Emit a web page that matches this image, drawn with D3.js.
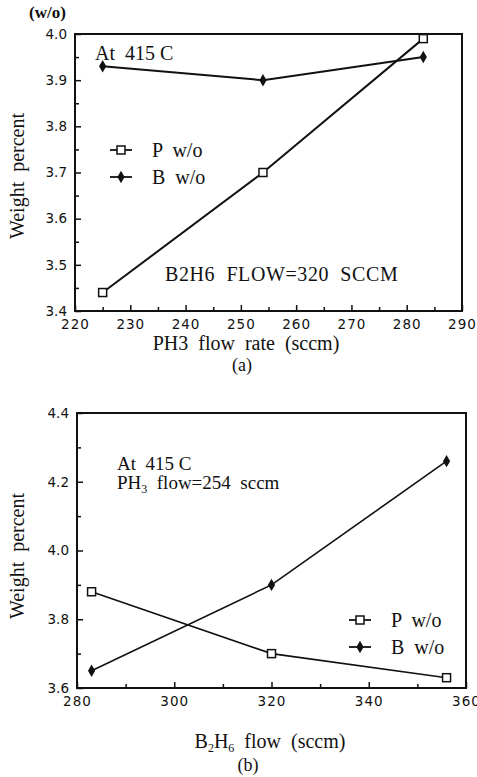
<!DOCTYPE html>
<html>
<head>
<meta charset="utf-8">
<script src="https://cdn.jsdelivr.net/npm/d3@7"></script>
<style>
  body { margin: 0; background: #fff; }
  text { fill: #111; white-space: pre; }
  .serif { font-family: "Liberation Serif", "DejaVu Serif", serif; }
  .tick text { font-family: "DejaVu Sans", sans-serif; font-size: 13.5px; }
  .xax .tick text { letter-spacing: 1px; }
</style>
</head>
<body>
<svg id="chart" width="477" height="777"></svg>
<script>
// panel (a): PH3 flow sweep
var ph3Flow   = [225, 254, 283]
var pWtA      = [3.44, 3.70, 3.99]
var bWtA      = [3.93, 3.90, 3.95]
var yTicksA   = [3.4, 3.5, 3.6, 3.7, 3.8, 3.9, 4.0]
var xTicksA   = [220, 230, 240, 250, 260, 270, 280, 290]

// panel (b): B2H6 flow sweep
var b2h6Flow  = [283, 320, 356]
var pWtB      = [3.88, 3.70, 3.63]
var bWtB      = [3.65, 3.90, 4.26]
var yTicksB   = [3.6, 3.8, 4.0, 4.2, 4.4]
var xTicksB   = [280, 300, 320, 340, 360]

var svg = d3.select('#chart')

function panel(o){
    var x = d3.scaleLinear().domain(o.xDom).range([o.left, o.right])
    var y = d3.scaleLinear().domain(o.yDom).range([o.bottom, o.top])
    var g = svg.append('g')

    // minor ticks (inside)
    g.append('g').attr('transform', 'translate(0,' + o.bottom + ')')
        .call(d3.axisBottom(x).tickValues(o.xMinor).tickSize(-4).tickFormat(''))
        .call(a => a.select('.domain').remove())
    g.append('g').attr('transform', 'translate(' + o.left + ',0)')
        .call(d3.axisLeft(y).tickValues(o.yMinor).tickSize(-4).tickFormat(''))
        .call(a => a.select('.domain').remove())

    // major ticks + labels
    g.append('g').attr('class', 'xax').attr('transform', 'translate(0,' + o.bottom + ')')
        .call(d3.axisBottom(x).tickValues(o.xTicks).tickSizeInner(-6).tickSizeOuter(0).tickPadding(o.xPad).tickFormat(d3.format('d')))
        .call(a => a.select('.domain').remove())
    g.append('g').attr('transform', 'translate(' + o.left + ',0)')
        .call(d3.axisLeft(y).tickValues(o.yTicks).tickSizeInner(-6).tickSizeOuter(0).tickPadding(8).tickFormat(d3.format('.1f')))
        .call(a => a.select('.domain').remove())
    g.selectAll('.tick line').attr('stroke', '#111').attr('stroke-width', 1.5)

    // frame
    g.append('rect')
        .attr('x', o.left).attr('y', o.top)
        .attr('width', o.right - o.left).attr('height', o.bottom - o.top)
        .attr('fill', 'none').attr('stroke', '#111').attr('stroke-width', 2)

    var line = d3.line().x(d => x(d[0])).y(d => y(d[1]))
    var pPts = o.xs.map((v, i) => [v, o.p[i]])
    var bPts = o.xs.map((v, i) => [v, o.b[i]])

    g.append('path').datum(bPts).attr('d', line)
        .attr('fill', 'none').attr('stroke', '#111').attr('stroke-width', o.lw)
    g.append('path').datum(pPts).attr('d', line)
        .attr('fill', 'none').attr('stroke', '#111').attr('stroke-width', o.lw)

    var diamond = d3.symbol().type(d3.symbolDiamond).size(45)
    g.selectAll('.bm').data(bPts).enter().append('path')
        .attr('transform', d => 'translate(' + x(d[0]) + ',' + y(d[1]) + ')')
        .attr('d', diamond).attr('fill', '#111')
    g.selectAll('.pm').data(pPts).enter().append('rect')
        .attr('x', d => x(d[0]) - 4).attr('y', d => y(d[1]) - 4)
        .attr('width', 8).attr('height', 8)
        .attr('fill', '#fff').attr('stroke', '#111').attr('stroke-width', 1.5)

    // legend
    var lg = svg.append('g').attr('transform', 'translate(' + o.legend[0] + ',' + o.legend[1] + ')')
    lg.append('line').attr('x1', 0).attr('x2', 22).attr('y1', 0).attr('y2', 0).attr('stroke', '#111').attr('stroke-width', 1.8)
    lg.append('rect').attr('x', 7).attr('y', -4).attr('width', 8).attr('height', 8).attr('fill', '#fff').attr('stroke', '#111').attr('stroke-width', 1.5)
    lg.append('line').attr('x1', 0).attr('x2', 22).attr('y1', 27).attr('y2', 27).attr('stroke', '#111').attr('stroke-width', 1.8)
    lg.append('path').attr('transform', 'translate(11,27)').attr('d', diamond).attr('fill', '#111')
    lg.append('text').attr('class', 'serif').attr('x', 42).attr('y', 7).attr('font-size', 20).text('P  w/o')
    lg.append('text').attr('class', 'serif').attr('x', 42).attr('y', 34).attr('font-size', 20).text('B  w/o')

    // y label
    svg.append('text').attr('class', 'serif')
        .attr('transform', 'translate(24,' + o.yLabel + ') rotate(-90)')
        .attr('text-anchor', 'middle').attr('font-size', 20).text('Weight  percent')
}

// (a)
panel({
    left: 75, right: 462, top: 34, bottom: 311,
    xDom: [220, 290], yDom: [3.4, 4.0],
    xTicks: xTicksA, yTicks: yTicksA, xPad: 8,
    xMinor: d3.range(225, 290, 10), yMinor: d3.range(3.45, 4.0, 0.1),
    xs: ph3Flow, p: pWtA, b: bWtA, lw: 2,
    legend: [110, 150], yLabel: 176
})
svg.append('text').attr('class', 'serif').attr('x', 29).attr('y', 18).attr('font-size', 17).attr('font-weight', 'bold').text('(w/o)')
svg.append('text').attr('class', 'serif').attr('x', 95).attr('y', 60).attr('font-size', 20).text('At  415 C')
svg.append('text').attr('class', 'serif').attr('x', 165).attr('y', 281).attr('font-size', 20).attr('letter-spacing', 0.6).text('B2H6  FLOW=320  SCCM')
svg.append('text').attr('class', 'serif').attr('x', 246).attr('y', 350).attr('text-anchor', 'middle').attr('font-size', 20).text('PH3  flow  rate  (sccm)')
svg.append('text').attr('class', 'serif').attr('x', 242).attr('y', 371).attr('text-anchor', 'middle').attr('font-size', 18).text('(a)')

// (b)
panel({
    left: 77, right: 466, top: 413, bottom: 688,
    xDom: [280, 360], yDom: [3.6, 4.4],
    xTicks: xTicksB, yTicks: yTicksB, xPad: 8,
    xMinor: d3.range(290, 360, 20), yMinor: d3.range(3.7, 4.4, 0.2),
    xs: b2h6Flow, p: pWtB, b: bWtB, lw: 1.6,
    legend: [349, 620], yLabel: 556
})
svg.append('text').attr('class', 'serif').attr('font-size', 19).attr('x', 117).attr('y', 470).text('At  415 C')
var t2 = svg.append('text').attr('class', 'serif').attr('font-size', 19).attr('x', 117).attr('y', 489)
t2.append('tspan').text('PH')
t2.append('tspan').attr('font-size', 12).attr('dy', 4).text('3')
t2.append('tspan').attr('dy', -4).text('  flow=254  sccm')

var xl = svg.append('text').attr('class', 'serif').attr('font-size', 20).attr('x', 270).attr('y', 748).attr('text-anchor', 'middle')
xl.append('tspan').text('B')
xl.append('tspan').attr('font-size', 12).attr('dy', 4).text('2')
xl.append('tspan').attr('dy', -4).text('H')
xl.append('tspan').attr('font-size', 12).attr('dy', 4).text('6')
xl.append('tspan').attr('dy', -4).text('  flow  (sccm)')
svg.append('text').attr('class', 'serif').attr('x', 248).attr('y', 771).attr('text-anchor', 'middle').attr('font-size', 18).text('(b)')
</script>
</body>
</html>
